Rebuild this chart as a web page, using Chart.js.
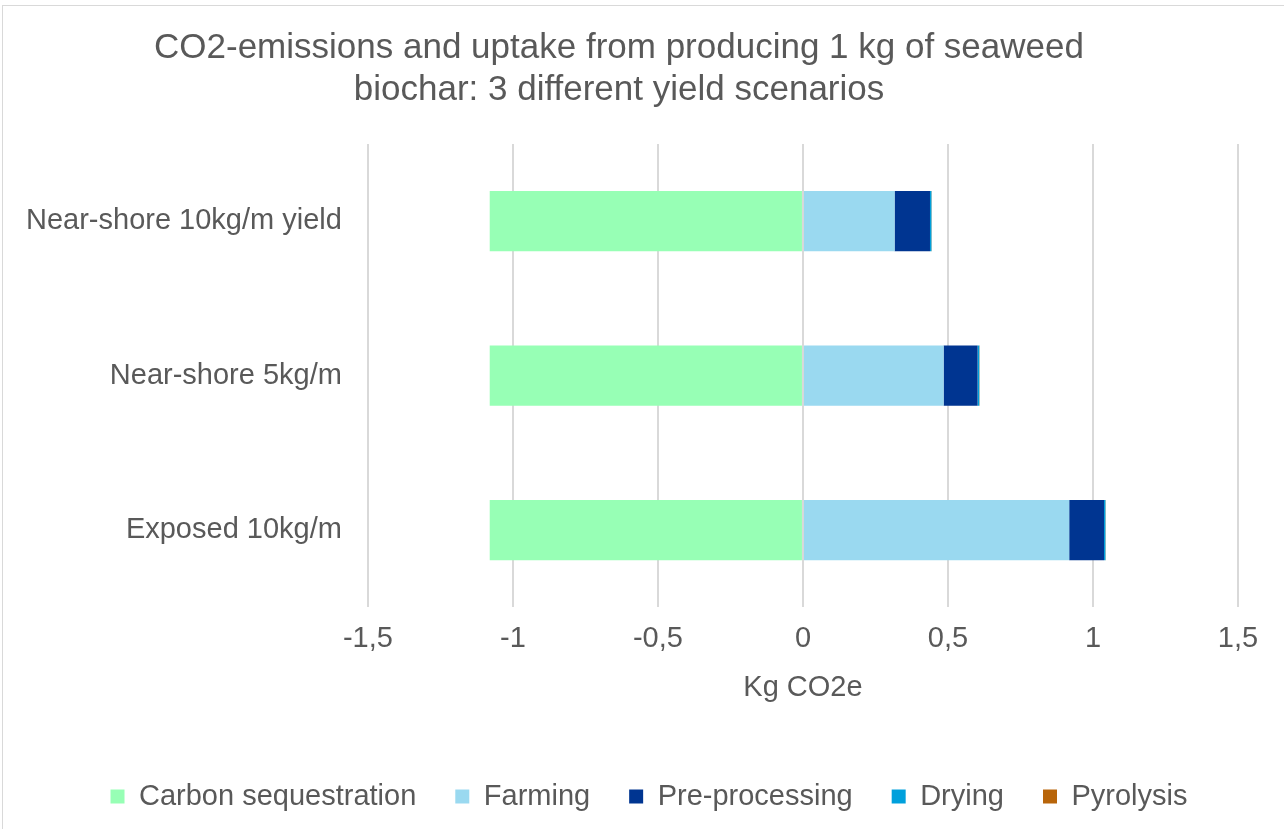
<!DOCTYPE html>
<html>
<head>
<meta charset="utf-8">
<script src="https://cdn.jsdelivr.net/npm/chart.js@4"></script>
<style>
  body { margin: 0; background: #fff; }
  #wrap { position: absolute; left: 0; top: 0; width: 1284px; height: 829px; }
  #frame { position: absolute; left: 2px; top: 5px; width: 1300px; height: 900px; border: 1px solid #d9d9d9; box-sizing: border-box; }
</style>
</head>
<body>
<div id="frame"></div>
<div id="wrap"><canvas id="barChart"></canvas></div>
<script>
var categories = ['Near-shore 10kg/m yield', 'Near-shore 5kg/m', 'Exposed 10kg/m'];
var carbonSequestration = [-1.08, -1.08, -1.08];
var farming = [0.316, 0.485, 0.918];
var preProcessing = [0.122, 0.117, 0.12];
var drying = [0.005, 0.006, 0.005];
var pyrolysis = [0.001, 0.001, 0.001];
var xTickLabels = ['-1,5', '-1', '-0,5', '0', '0,5', '1', '1,5'];

Chart.defaults.font.family = 'Liberation Sans, Arial, sans-serif';
Chart.defaults.color = '#595959';

// nudge the legend a little to the right, like the original
var legendShift = {
    id: 'legendShift',
    afterLayout: function (chart) {
        chart.legend.left += 30;
        chart.legend.right += 30;
    }
};

var ctx = document.getElementById('barChart').getContext('2d');
var myChart = new Chart(ctx, {
    type: 'bar',
    data: {
        labels: categories,
        datasets: [
            { label: 'Carbon sequestration', data: carbonSequestration, backgroundColor: '#97FFB5' },
            { label: 'Farming', data: farming, backgroundColor: '#9AD9F0' },
            { label: 'Pre-processing', data: preProcessing, backgroundColor: '#003591' },
            { label: 'Drying', data: drying, backgroundColor: '#00A0DC' },
            { label: 'Pyrolysis', data: pyrolysis, backgroundColor: '#B8650A' }
        ]
    },
    options: {
        indexAxis: 'y',
        responsive: true,
        maintainAspectRatio: false,
        animation: false,
        layout: { padding: { left: 0, right: 46, top: 14, bottom: 8 } },
        datasets: { bar: { barPercentage: 0.39, categoryPercentage: 1, borderWidth: 0 } },
        scales: {
            x: {
                stacked: true,
                min: -1.5,
                max: 1.5,
                ticks: {
                    stepSize: 0.5,
                    padding: 14,
                    font: { size: 29 },
                    color: '#595959',
                    callback: function (v, i) { return xTickLabels[i]; }
                },
                grid: { color: '#d9d9d9', lineWidth: 2, drawTicks: false },
                border: { display: false },
                title: { display: true, text: 'Kg CO2e', font: { size: 29 }, color: '#595959', padding: { top: 0, bottom: 38 } }
            },
            y: {
                stacked: true,
                ticks: { padding: 26, font: { size: 29 }, color: '#595959' },
                grid: { display: false, drawTicks: false },
                border: { display: false }
            }
        },
        plugins: {
            title: {
                display: true,
                text: ['CO2-emissions and uptake from producing 1 kg of seaweed', 'biochar: 3 different yield scenarios'],
                font: { size: 35, weight: 'normal' },
                color: '#595959',
                lineHeight: 1.15,
                padding: { top: 13, bottom: 33 }
            },
            legend: {
                position: 'bottom',
                labels: {
                    boxWidth: 14,
                    boxHeight: 14,
                    padding: 39,
                    font: { size: 29 },
                    color: '#595959'
                }
            },
            tooltip: { enabled: false }
        }
    },
    plugins: [legendShift]
});
</script>
</body>
</html>
